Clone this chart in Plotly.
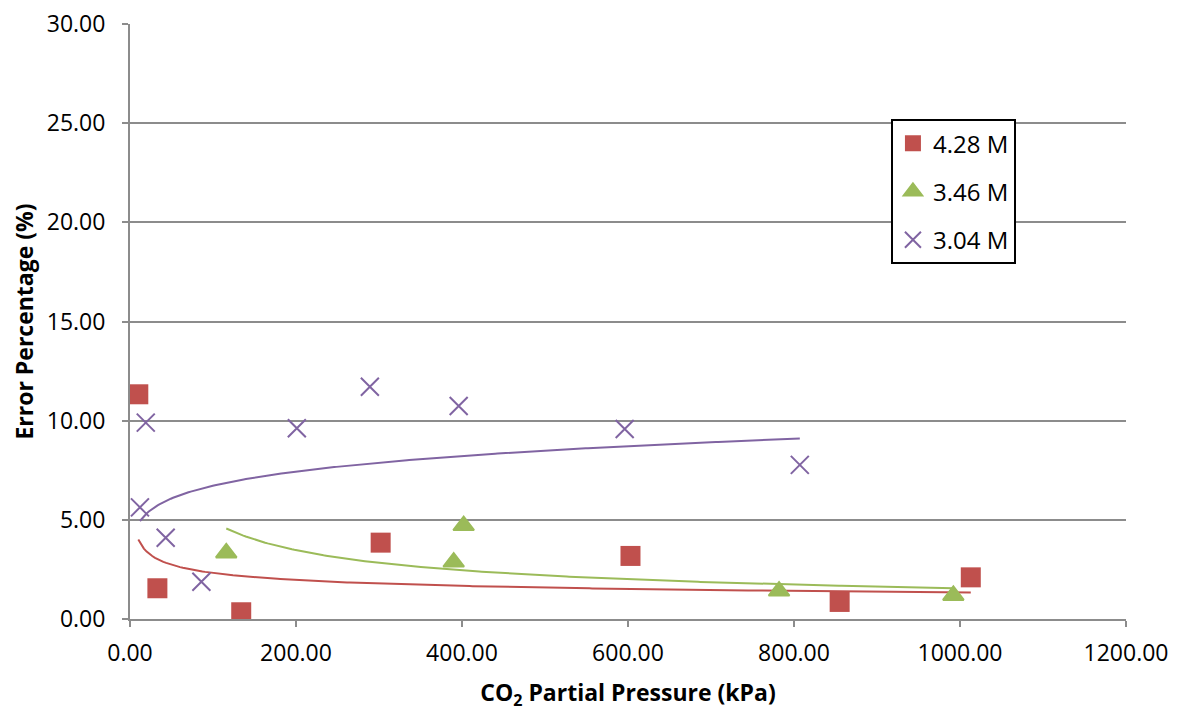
import numpy as np
import plotly.graph_objects as go

# 4.28 M
x_428 = [10, 33, 134, 302, 603, 855, 1013]
y_428 = [11.33, 1.55, 0.34, 3.85, 3.18, 0.86, 2.10]
# 3.46 M
x_346 = [116, 390, 402, 782, 992]
y_346 = [3.33, 2.87, 4.71, 1.41, 1.19]
# 3.04 M
x_304 = [12, 19, 43, 86, 201, 289, 396, 596, 807]
y_304 = [5.63, 9.90, 4.10, 1.88, 9.62, 11.71, 10.74, 9.58, 7.77]

names = ["4.28 M", "3.46 M", "3.04 M"]
colors = ["#C0504D", "#9BBB59", "#8064A2"]
symbols = ["square", "triangle-up", "x-thin"]
x_ticks = [0, 200, 400, 600, 800, 1000, 1200]
y_ticks = [0, 5, 10, 15, 20, 25, 30]

FONT = "Open Sans"
fig = go.Figure()


def power_fit(xs, ys):
    xs = np.asarray(xs, float)
    ys = np.asarray(ys, float)
    b, ln_a = np.polyfit(np.log(xs), np.log(ys), 1)
    xx = np.linspace(xs.min(), xs.max(), 300)
    return xx, np.exp(ln_a) * xx ** b


series = [(x_428, y_428), (x_346, y_346), (x_304, y_304)]
# trendlines first (under markers)
for (xs, ys), c in zip(series, colors):
    xx, yy = power_fit(xs, ys)
    fig.add_trace(go.Scatter(x=xx, y=yy, mode="lines", line=dict(color=c, width=2),
                             showlegend=False, hoverinfo="skip"))

for (xs, ys), n, c, s in zip(series, names, colors, symbols):
    if s == "x-thin":
        marker = dict(symbol=s, size=18, color=c, line=dict(color=c, width=2))
    elif s == "square":
        marker = dict(symbol=s, size=20, color=c, line=dict(width=0))
    else:
        marker = dict(symbol=s, size=18, color=c, line=dict(color=c, width=2))
    fig.add_trace(go.Scatter(x=xs, y=ys, mode="markers", name=n, marker=marker,
                             legendgroup=n))

axis_common = dict(
    showline=True, linecolor="#8c8c8c", linewidth=2,
    ticks="outside", tickcolor="#8c8c8c", ticklen=6, tickwidth=2,
    tickfont=dict(family=FONT, size=23, color="black"),
    zeroline=False, ticklabeloverflow="allow", automargin=False,
)
fig.update_xaxes(range=[0, 1200], tickvals=x_ticks, tickformat=".2f", showgrid=False,
                 ticklabelstandoff=6,
                 title=dict(text="<b>CO<sub>2</sub> Partial Pressure (kPa)</b>",
                            font=dict(family=FONT, size=23, color="black"), standoff=18),
                 **axis_common)
fig.update_yaxes(range=[0, 30], tickvals=y_ticks, tickformat=".2f", showgrid=True,
                 gridcolor="#8c8c8c", gridwidth=2, ticklabelstandoff=12,
                 title=dict(text="<b>Error Percentage (%)</b>",
                            font=dict(family=FONT, size=23, color="black"), standoff=8),
                 **axis_common)

fig.update_layout(
    width=1189, height=711,
    margin=dict(l=122, r=71, t=16, b=100),
    plot_bgcolor="white", paper_bgcolor="white",
    font=dict(family=FONT, color="black"),
    legend=dict(x=0.764, y=0.84, xanchor="left", yanchor="top",
                bordercolor="black", borderwidth=2, bgcolor="white",
                font=dict(family=FONT, size=24, color="black"),
                tracegroupgap=14, itemwidth=30),
)

fig.write_html("out.html")
